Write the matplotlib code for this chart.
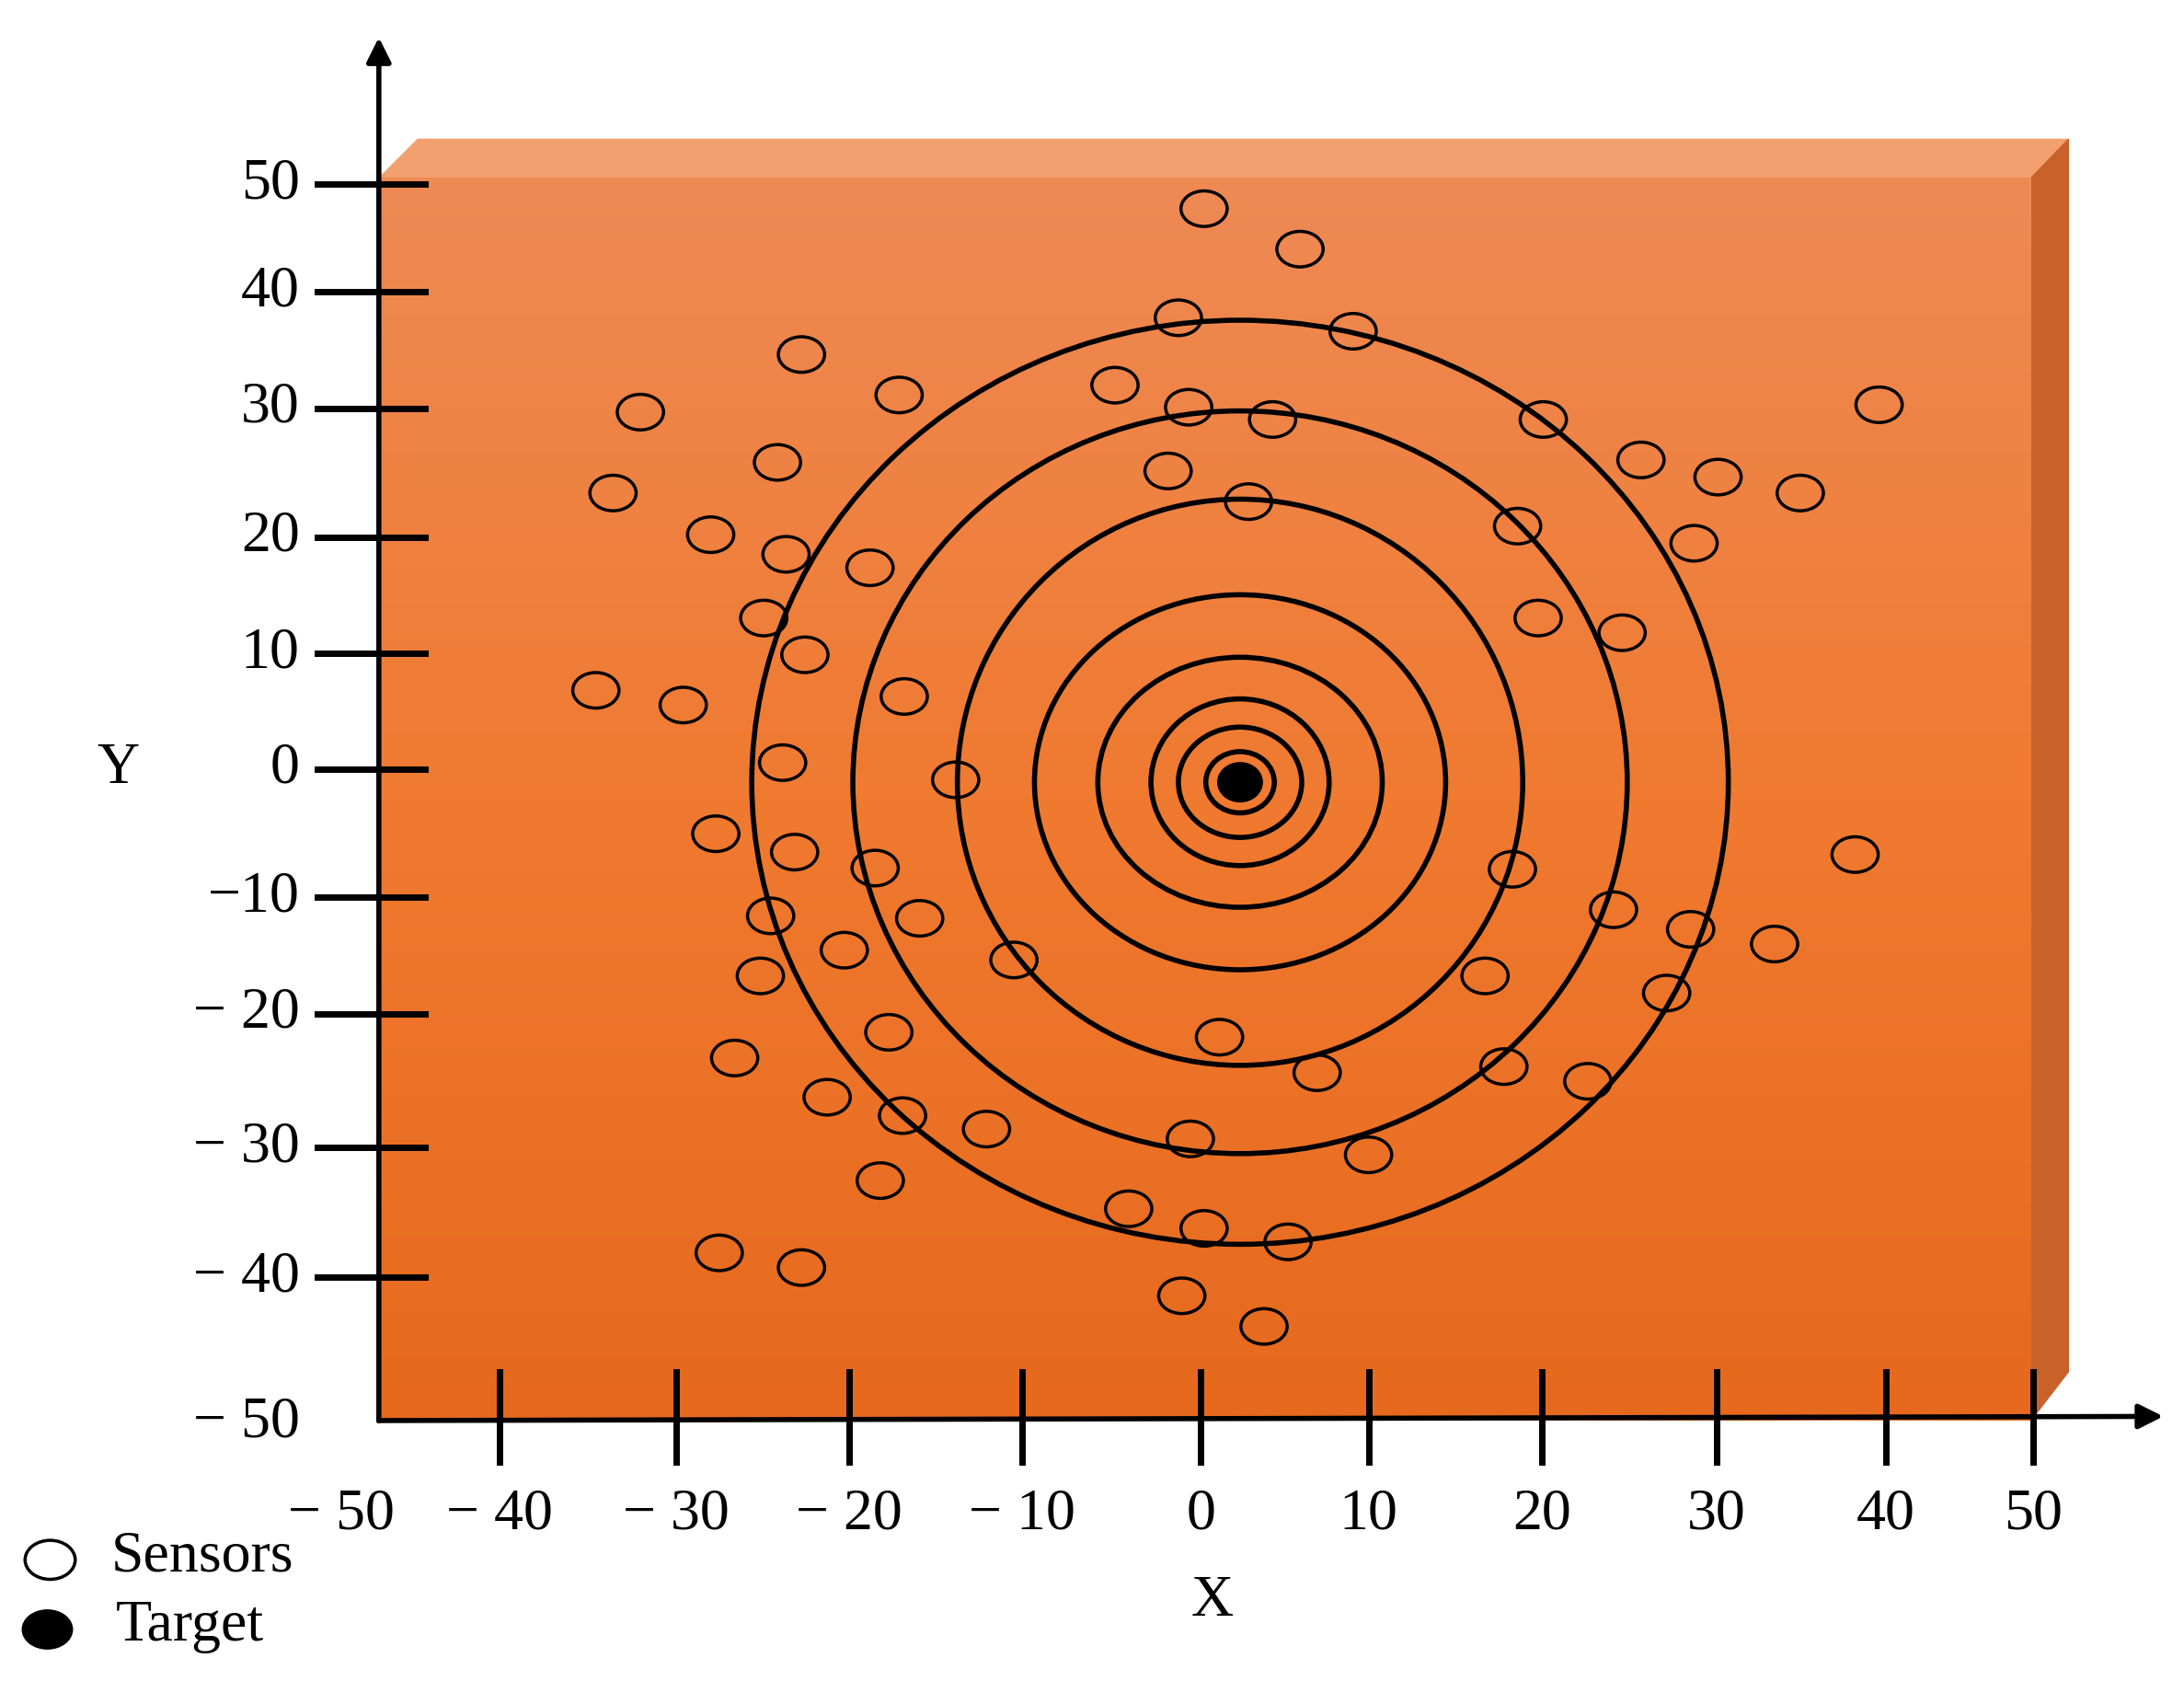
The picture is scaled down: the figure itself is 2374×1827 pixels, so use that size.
import numpy as np
import matplotlib.pyplot as plt
from matplotlib.patches import Ellipse, Polygon
from matplotlib.colors import LinearSegmentedColormap

sensor_x = [0.2, 5.8, -1.3, 8.9, -23.3, -17.6, -5.0, -0.7, 4.2, 20.0, 39.6, -32.7, -24.7, -1.9, 25.7, 30.2, 35.0, -34.3, 2.8, -28.6, -24.2, -19.3, 18.5, 28.8, -25.5, 19.7, 24.6, -23.1, -35.3, -30.2, -17.3, -24.4, -14.3, -28.3, -23.7, -19.0, 18.2, 38.2, -25.1, -16.4, 24.1, 28.6, -20.8, -10.9, 33.5, -25.7, 16.6, 27.2, -18.2, 1.1, -27.2, 6.8, 17.7, 22.6, -21.8, -17.4, -12.5, -0.6, 9.8, -18.7, -4.2, 0.2, 5.1, -28.1, -23.3, -1.1, 3.7]
sensor_y = [45.7, 42.4, 36.8, 35.7, 33.8, 30.5, 31.3, 29.5, 28.5, 28.5, 29.7, 29.1, 25.0, 24.3, 25.2, 23.8, 22.5, 22.5, 21.8, 19.1, 17.5, 16.4, 19.8, 18.4, 12.3, 12.3, 11.1, 9.3, 6.4, 5.2, 5.9, 0.5, -0.9, -5.3, -6.8, -8.1, -8.2, -7.0, -12.0, -12.2, -11.5, -13.1, -14.8, -15.6, -14.3, -16.9, -16.9, -18.3, -21.5, -21.9, -23.6, -24.8, -24.3, -25.5, -26.8, -28.3, -29.4, -30.2, -31.5, -33.6, -35.9, -37.5, -38.6, -39.5, -40.7, -43.0, -45.5]
target_x, target_y = [2.3], [-1.1]
ring_rx = [28.5, 22.6, 16.5, 12.0, 8.3, 5.2, 3.6, 2.0]
ring_ry = [37.7, 30.3, 23.1, 15.3, 10.2, 6.8, 4.5, 2.5]
tick_vals = [-50, -40, -30, -20, -10, 0, 10, 20, 30, 40, 50]
x_tick_pos = [-48.0, -40.9, -30.6, -20.5, -10.4, 0.0, 9.8, 19.9, 30.1, 40.0, 48.6]
y_tick_pos = [-53.4, -41.5, -30.9, -20.0, -10.5, 0.0, 9.4, 18.9, 29.4, 38.9, 47.7]

def px(x): return (x - 862) / 12.3
def py(y): return (552 - y) / 8.8

fig = plt.figure(figsize=(23.74, 18.27), dpi=100)
ax = fig.add_axes([0, 0, 1, 1])
ax.set_xlim(px(0), px(1568)); ax.set_ylim(py(1207), py(0))
ax.axis('off')
serif = 'Liberation Serif'
FS = 46

ax.add_patch(Polygon([(px(272), py(128)), (px(300), py(100)), (px(1485), py(100)), (px(1458), py(128))],
                     closed=True, color='#F3A070', zorder=1))
ax.add_patch(Polygon([(px(1458), py(128)), (px(1485), py(100)), (px(1485), py(985)), (px(1458), py(1020))],
                     closed=True, color='#C8612A', zorder=1))
cmap = LinearSegmentedColormap.from_list('g', ['#EE8A55', '#F07A30', '#E6691D'])
grad = np.linspace(0, 1, 256).reshape(-1, 1)
ax.imshow(grad, cmap=cmap, aspect='auto', extent=(px(272), px(1458), py(1020), py(128)), zorder=2)

ax.annotate('', xy=(px(272), py(25)), xytext=(px(272), py(1022)),
            arrowprops=dict(arrowstyle='-|>', lw=4, color='black', mutation_scale=40), zorder=5)
ax.annotate('', xy=(px(1555), py(1017)), xytext=(px(270), py(1020)),
            arrowprops=dict(arrowstyle='-|>', lw=4, color='black', mutation_scale=40), zorder=5)

for v, p in zip(tick_vals, y_tick_pos):
    if v != -50:
        ax.plot([px(228), px(305)], [p, p], color='black', lw=5, zorder=5)
    lab = '\u221210' if v == -10 else ('\u2212 ' if v < 0 else '') + str(abs(v))
    ax.text(px(215), p, lab, ha='right', va='center', fontsize=FS, family=serif, zorder=6)
for v, p in zip(tick_vals, x_tick_pos):
    if v != -50:
        ax.plot([p, p], [py(985), py(1050)], color='black', lw=5, zorder=5)
    lab = ('\u2212 ' if v < 0 else '') + str(abs(v))
    xx = px(245) if v == -50 else p
    ax.text(xx, py(1088), lab, ha='center', va='center', fontsize=FS, family=serif, zorder=6)
ax.text(px(85), py(552), 'Y', ha='center', va='center', fontsize=FS, family=serif)
ax.text(px(870), py(1150), 'X', ha='center', va='center', fontsize=FS, family=serif)

for rx, ry in zip(ring_rx, ring_ry):
    ax.add_patch(Ellipse((target_x[0], target_y[0]), 2 * rx, 2 * ry, fill=False, lw=4, ec='black', zorder=4))
for x, y in zip(sensor_x, sensor_y):
    ax.add_patch(Ellipse((x, y), 2.7, 2.9, fill=False, lw=2.5, ec='black', zorder=5))
ax.add_patch(Ellipse((target_x[0], target_y[0]), 2.6, 3.2, color='black', zorder=6))

ax.add_patch(Ellipse((px(36), py(1120)), 36 / 12.3, 28 / 8.8, fill=False, lw=2.5, ec='black'))
ax.add_patch(Ellipse((px(34), py(1170)), 36 / 12.3, 28 / 8.8, color='black'))
ax.text(px(80), py(1118), 'Sensors', va='center', fontsize=FS, family=serif)
ax.text(px(83), py(1168), 'Target', va='center', fontsize=FS, family=serif)
fig.savefig('out.png', dpi=100, facecolor='white')
